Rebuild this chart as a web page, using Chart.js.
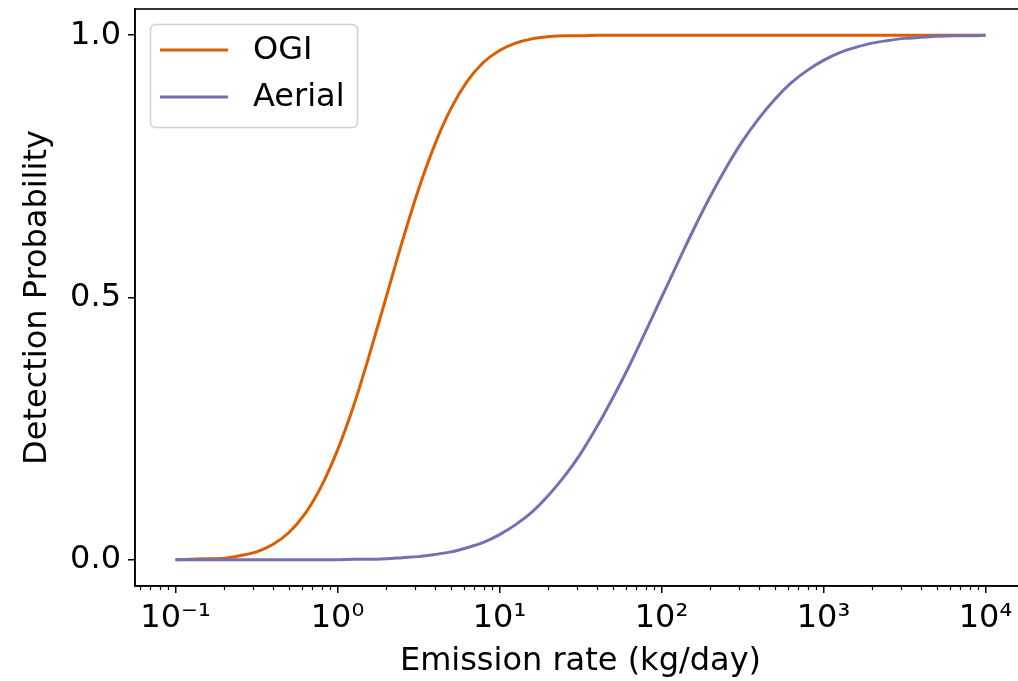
<!DOCTYPE html>
<html><head><meta charset="utf-8">
<script src="https://cdn.jsdelivr.net/npm/chart.js@4.4.1/dist/chart.umd.min.js"></script>
<style>
html,body{margin:0;padding:0;background:#fff;overflow:hidden;}
#wrap{position:relative;width:1040px;height:681px;}
</style></head><body>
<div id="wrap"><canvas id="c"></canvas></div>
<script>
// Emission rate (kg/day), sampled every 0.1 decade
const emissionRate = [0.1,0.1259,0.1585,0.1995,0.2512,0.3162,0.3981,0.5012,0.631,0.7943,
  1,1.259,1.585,1.995,2.512,3.162,3.981,5.012,6.31,7.943,
  10,12.59,15.85,19.95,25.12,31.62,39.81,50.12,63.1,79.43,
  100,125.9,158.5,199.5,251.2,316.2,398.1,501.2,631,794.3,
  1000,1259,1585,1995,2512,3162,3981,5012,6310,7943,10000];
const ogiProb = [0.000,0.001,0.002,0.003,0.008,0.015,0.029,0.052,0.088,0.140,
  0.209,0.294,0.394,0.500,0.607,0.706,0.791,0.860,0.912,0.948,
  0.971,0.985,0.993,0.997,0.999,0.999,1.000,1.000,1.000,1.000,
  1.000,1.000,1.000,1.000,1.000,1.000,1.000,1.000,1.000,1.000,
  1.000,1.000,1.000,1.000,1.000,1.000,1.000,1.000,1.000,1.000,1.000];
const aerialProb = [0.000,0.000,0.000,0.000,0.000,0.000,0.000,0.000,0.000,0.000,
  0.000,0.001,0.001,0.002,0.004,0.006,0.010,0.015,0.023,0.033,
  0.048,0.067,0.091,0.122,0.159,0.202,0.253,0.309,0.369,0.434,
  0.500,0.566,0.631,0.692,0.748,0.798,0.841,0.878,0.909,0.933,
  0.952,0.967,0.977,0.985,0.990,0.994,0.996,0.998,0.999,0.999,1.000];
const seriesNames = ['OGI','Aerial'];
const seriesColors = ['#d95f02','#7570b3'];
const xTickValues = [0.1,1,10,100,1000,10000];
const xTickLabels = ['10\u207B\u00B9','10\u2070','10\u00B9','10\u00B2','10\u00B3','10\u2074'];
const yTickValues = [0,0.5,1];
const yTickLabels = ['0.0','0.5','1.0'];
const xTitle = 'Emission rate (kg/day)';
const yTitle = 'Detection Probability';

const FONT = 'DejaVu Sans';
const FS = 32;

function pts(xs, ys){ return xs.map((x,i)=>({x:x, y:ys[i]})); }

const extras = {
  id:'extras',
  afterDraw(chart){
    const ctx = chart.ctx, a = chart.chartArea, xs = chart.scales.x;
    ctx.save();
    ctx.strokeStyle = '#000'; ctx.lineWidth = 1.6;
    ctx.strokeRect(a.left, a.top, a.right - a.left, a.bottom - a.top);
    ctx.lineWidth = 1.2;
    for (let k = -2; k <= 4; k++){
      for (let m = 2; m <= 9; m++){
        const v = m * Math.pow(10, k);
        if (v < xs.min || v > xs.max) continue;
        const px = Math.round(xs.getPixelForValue(v)) + 0.5;
        ctx.beginPath(); ctx.moveTo(px, a.bottom); ctx.lineTo(px, a.bottom + 4); ctx.stroke();
      }
    }
    const bx = 150.5, by = 24.5, bw = 207, bh = 103;
    ctx.beginPath();
    ctx.roundRect(bx, by, bw, bh, 5);
    ctx.fillStyle = 'rgba(255,255,255,0.8)'; ctx.fill();
    ctx.strokeStyle = '#d0d0d0'; ctx.lineWidth = 1.5; ctx.stroke();
    ctx.font = FS + 'px "' + FONT + '"';
    ctx.textBaseline = 'middle'; ctx.textAlign = 'left';
    const rows = [50, 97];
    seriesNames.forEach((n,i)=>{
      ctx.strokeStyle = seriesColors[i]; ctx.lineWidth = 3;
      ctx.beginPath(); ctx.moveTo(160, rows[i]); ctx.lineTo(228, rows[i]); ctx.stroke();
      ctx.fillStyle = '#000';
      ctx.fillText(n, 253, rows[i] + 1);
    });
    ctx.restore();
  }
};

new Chart(document.getElementById('c'), {
  type: 'line',
  data: {
    datasets: [
      { label: seriesNames[0], data: pts(emissionRate, ogiProb), borderColor: seriesColors[0],
        borderWidth: 3, pointRadius: 0, cubicInterpolationMode: 'monotone', fill: false, order: 1 },
      { label: seriesNames[1], data: pts(emissionRate, aerialProb), borderColor: seriesColors[1],
        borderWidth: 3, pointRadius: 0, cubicInterpolationMode: 'monotone', fill: false, order: 0 }
    ]
  },
  options: {
    responsive: true, maintainAspectRatio: false, animation: false,
    layout: { padding: { top: 9, right: 14, left: 0, bottom: 0 } },
    plugins: { legend: { display: false }, tooltip: { enabled: false } },
    scales: {
      x: {
        type: 'logarithmic', min: Math.pow(10,-1.25), max: Math.pow(10,4.25),
        afterBuildTicks: s => { s.ticks = xTickValues.map(v => ({ value: v })); },
        afterFit: s => { s.height = 95; s.paddingLeft = 0; s.paddingRight = 0; },
        grid: { drawOnChartArea: false, drawTicks: true, tickLength: 7, color: '#000', lineWidth: 1.5 },
        border: { display: true, color: '#000', width: 1.6 },
        ticks: { color: '#000', font: { family: FONT, size: FS }, padding: 6, maxRotation: 0, autoSkip: false,
          callback: (v) => { const i = xTickValues.indexOf(v); return i >= 0 ? xTickLabels[i] : ''; } },
        title: { display: true, text: xTitle, color: '#000', font: { family: FONT, size: FS }, padding: { top: 0, bottom: 0 } }
      },
      y: {
        type: 'linear', min: -0.05, max: 1.05,
        afterBuildTicks: s => { s.ticks = yTickValues.map(v => ({ value: v })); },
        afterFit: s => { s.width = 135; s.paddingTop = 0; s.paddingBottom = 0; },
        grid: { drawOnChartArea: false, drawTicks: true, tickLength: 7, color: '#000', lineWidth: 1.5 },
        border: { display: true, color: '#000', width: 1.6 },
        ticks: { color: '#000', font: { family: FONT, size: FS }, padding: 7,
          callback: (v) => { const i = yTickValues.indexOf(v); return i >= 0 ? yTickLabels[i] : ''; } },
        title: { display: true, text: yTitle, color: '#000', font: { family: FONT, size: FS }, padding: { top: 18, bottom: 0 } }
      }
    }
  },
  plugins: [extras]
});
</script>
</body></html>
